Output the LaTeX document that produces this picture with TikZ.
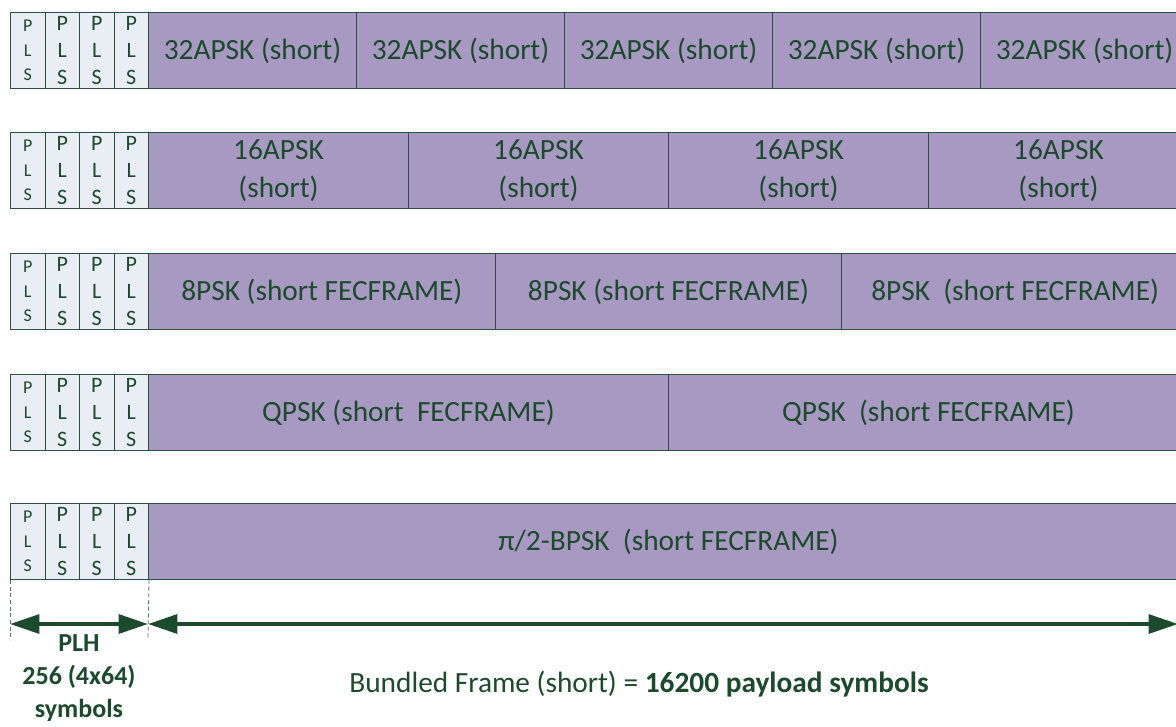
\documentclass[tikz,border=0pt]{standalone}
\usepackage{fontspec}
\setmainfont{Carlito}
\usetikzlibrary{arrows.meta,positioning}

\definecolor{txtgreen}{HTML}{1B4A2C}
\definecolor{edgegreen}{HTML}{2F5040}
\definecolor{payfill}{HTML}{A899C2}
\definecolor{plsfill}{HTML}{E9EEF4}

\tikzset{
  pls/.style={draw=edgegreen, fill=plsfill, text=txtgreen, line width=0.75pt,
    minimum width=25.875pt, minimum height=57pt, inner sep=0pt,
    anchor=north west, align=center, font=\fontsize{16.5}{20}\selectfont},
  plsfirst/.style={pls, font=\fontsize{13.5}{18.5}\selectfont},
  payload/.style={draw=edgegreen, fill=payfill, text=txtgreen, line width=0.75pt,
    minimum height=57pt, inner sep=0pt, anchor=north west, align=center,
    font=\fontsize{22}{28}\selectfont},
  dimline/.style={draw=txtgreen, line width=3pt,
    {Triangle[length=22pt,width=14pt]}-{Triangle[length=22pt,width=14pt]}},
  guide/.style={draw=edgegreen!80, line width=0.6pt, dash pattern=on 3pt off 2pt},
}

\begin{document}
\begin{tikzpicture}[x=0.75pt,y=-0.75pt]
  \useasboundingbox (0,0) rectangle (1176,726);

  % PLS header cells
  \foreach \r/\ty in {1/12,2/132,3/253,4/374,5/503}{
    \node[plsfirst] (pls\r1) at (10,\ty) {P\\L\\S};
    \foreach \c in {2,3,4}
      \node[pls] (pls\r\c) at ({10+34.5*(\c-1)},\ty) {P\\L\\S};
  }

  % 32APSK row
  \foreach \c in {1,...,5}
    \node[payload, minimum width=156pt] (apska\c) at ({148+208*(\c-1)},12) {32APSK (short)};
  % 16APSK row
  \foreach \c in {1,...,4}
    \node[payload, minimum width=195pt] (apskb\c) at ({148+260*(\c-1)},132) {16APSK\\(short)};
  % 8PSK row
  \node[payload, minimum width=260pt] (psk1) at (148,253) {8PSK (short FECFRAME)};
  \node[payload, minimum width=260pt] (psk2) at (494.67,253) {8PSK (short FECFRAME)};
  \node[payload, minimum width=260pt] (psk3) at (841.33,253) {8PSK\ \ (short FECFRAME)};
  % QPSK row
  \node[payload, minimum width=390pt] (qpsk1) at (148,374) {QPSK (short\ \ FECFRAME)};
  \node[payload, minimum width=390pt] (qpsk2) at (668,374) {QPSK\ \ (short FECFRAME)};
  % BPSK row
  \node[payload, minimum width=780pt] (bpsk) at (148,503) {π/2-BPSK\ \ (short FECFRAME)};

  % dimension arrows
  \coordinate (plhl) at (10,624);
  \coordinate (plhr) at (148,624);
  \coordinate (framer) at (1178,624);
  \coordinate (guidel) at (10,640);
  \coordinate (guider) at (148,640);
  \draw[guide] (pls51.south west) -- (guidel);
  \draw[guide] (pls54.south east) -- (guider);
  \draw[dimline] (plhl) -- (plhr);
  \draw[dimline] (plhr) -- (framer);

  \node[text=txtgreen, align=center, inner sep=0pt, anchor=north,
    font=\fontsize{19.5}{25}\selectfont\bfseries] (plh) at (79,634) {PLH\\256 (4x64)\\symbols};
  \node[text=txtgreen, inner sep=0pt, anchor=base,
    font=\fontsize{22}{26}\selectfont] (bundle) at (639,692)
    {Bundled Frame (short) = \textbf{16200 payload symbols}};
\end{tikzpicture}
\end{document}
